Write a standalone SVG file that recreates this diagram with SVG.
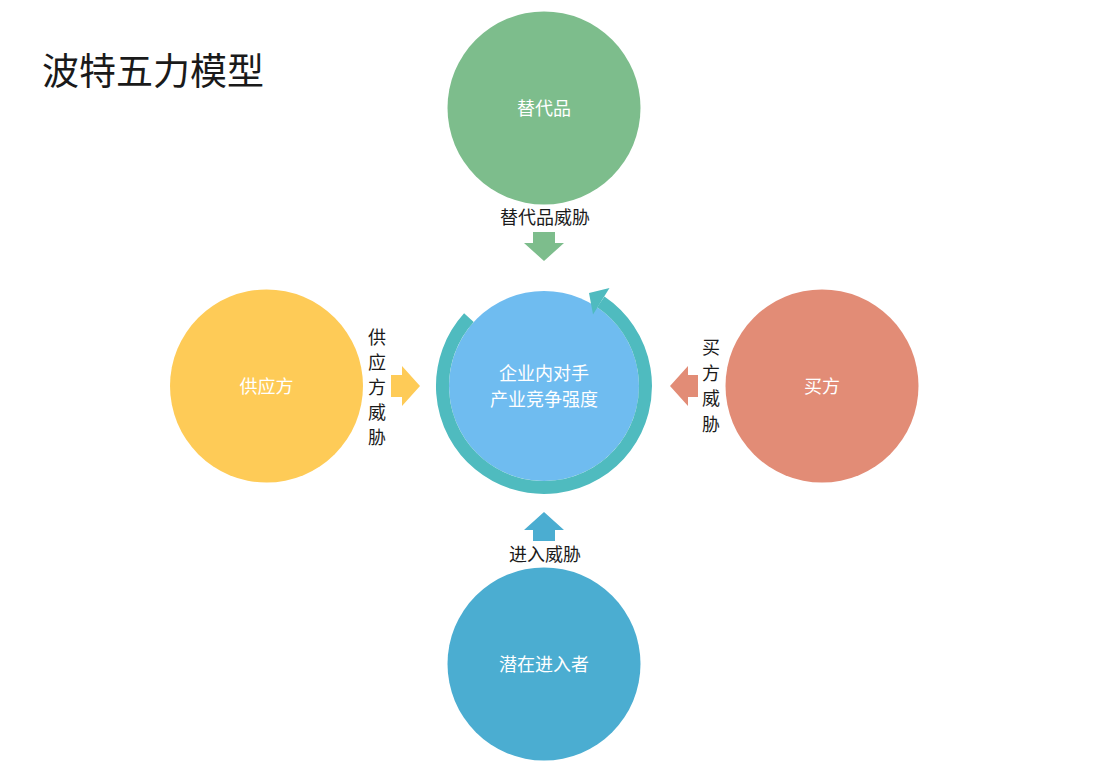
<svg xmlns="http://www.w3.org/2000/svg" width="1097" height="779" viewBox="0 0 1097 779">
<style>
text{font-family:"Microsoft YaHei","Noto Sans CJK SC","Noto Sans",sans-serif;}
.title{font-size:37px;fill:#1a1a1a;}
.in{font-size:18px;fill:#ffffff;text-anchor:middle;}
.lbl{font-size:18px;fill:#1a1a1a;text-anchor:middle;}
</style>
<rect width="1097" height="779" fill="#ffffff"/>
<text class="title" x="42" y="85">波特五力模型</text>

<g id="center">
  <circle cx="544" cy="386" r="95" fill="#6fbcf0"/>
  <path d="M 468.9 317.7 A 101.5 101.5 0 1 0 600.8 301.9" fill="none" stroke="#4fbbbf" stroke-width="13"/>
  <polygon points="589,293 609.5,288 593,314.5" fill="#4fbbbf"/>
  <text class="in" x="544" y="380">企业内对手</text>
  <text class="in" x="544" y="406">产业竞争强度</text>
</g>

<g id="substitute">
  <circle cx="544" cy="108" r="96.5" fill="#7dbd8c"/>
  <text class="in" x="544" y="115">替代品</text>
</g>

<g id="supplier">
  <circle cx="266.5" cy="386" r="96.5" fill="#fecb57"/>
  <text class="in" x="266.5" y="393">供应方</text>
</g>

<g id="buyer">
  <circle cx="822" cy="386" r="96.5" fill="#e28c76"/>
  <text class="in" x="822" y="393">买方</text>
</g>

<g id="entrant">
  <circle cx="544" cy="664" r="96.5" fill="#4badd1"/>
  <text class="in" x="544" y="671">潜在进入者</text>
</g>

<g id="connectors">
  <polygon points="533,232 555,232 555,243 564,243 544,261 524,243 533,243" fill="#7dbd8c"/>
  <polygon points="391,375 402,375 402,366 420,386 402,406 402,397 391,397" fill="#fecb57"/>
  <polygon points="698,375 688,375 688,366 670,386 688,406 688,397 698,397" fill="#e28c76"/>
  <polygon points="533,541 555,541 555,530 564,530 544,512 524,530 533,530" fill="#4badd1"/>
  <text class="lbl" x="545" y="224">替代品威胁</text>
  <text class="lbl" x="545" y="561">进入威胁</text>
  <g>
    <text class="lbl" x="377" y="344">供</text>
    <text class="lbl" x="377" y="369">应</text>
    <text class="lbl" x="377" y="394">方</text>
    <text class="lbl" x="377" y="419">威</text>
    <text class="lbl" x="377" y="444">胁</text>
  </g>
  <g>
    <text class="lbl" x="711" y="354">买</text>
    <text class="lbl" x="711" y="380">方</text>
    <text class="lbl" x="711" y="405">威</text>
    <text class="lbl" x="711" y="431">胁</text>
  </g>
</g>
</svg>
